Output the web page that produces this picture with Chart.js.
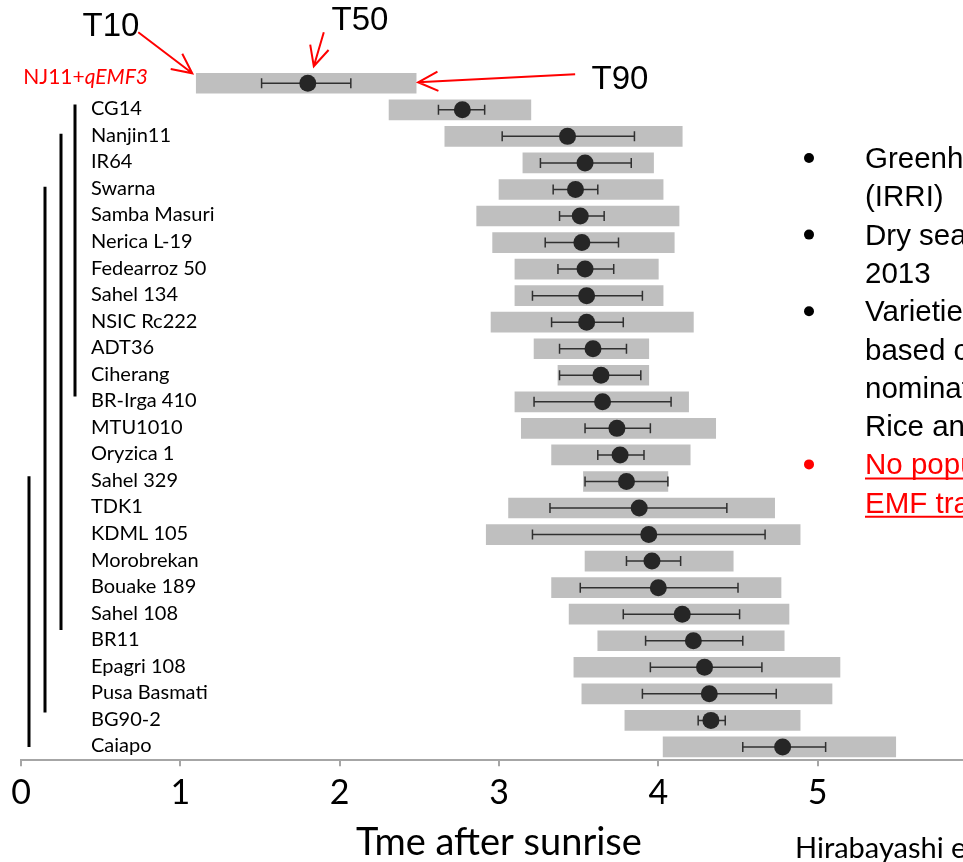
<!DOCTYPE html>
<html>
<head>
<meta charset="utf-8">
<script src="https://cdn.jsdelivr.net/npm/chart.js@4.4.1/dist/chart.umd.min.js"></script>
<style>
  html, body { margin: 0; padding: 0; background: #fff; overflow: hidden; }
  #wrap { width: 1000px; height: 862px; position: relative; }
</style>
</head>
<body>
<div id="wrap"><canvas id="emfChart"></canvas></div>
<script>
// flowering time data (hours after sunrise)
var varieties = ["NJ11+qEMF3", "CG14", "Nanjin11", "IR64", "Swarna", "Samba Masuri", "Nerica L-19",
    "Fedearroz 50", "Sahel 134", "NSIC Rc222", "ADT36", "Ciherang", "BR-Irga 410", "MTU1010",
    "Oryzica 1", "Sahel 329", "TDK1", "KDML 105", "Morobrekan", "Bouake 189", "Sahel 108", "BR11",
    "Epagri 108", "Pusa Basmati", "BG90-2", "Caiapo"];
var t10 = [1.10, 2.31, 2.66, 3.15, 3.00, 2.86, 2.96, 3.10, 3.10, 2.95, 3.22, 3.37, 3.10, 3.14,
    3.33, 3.53, 3.06, 2.92, 3.54, 3.33, 3.44, 3.62, 3.47, 3.52, 3.79, 4.03];
var t90 = [2.48, 3.20, 4.15, 3.97, 4.03, 4.13, 4.10, 4.00, 4.03, 4.22, 3.94, 3.94, 4.19, 4.36,
    4.20, 4.06, 4.73, 4.89, 4.47, 4.77, 4.82, 4.79, 5.14, 5.09, 4.89, 5.49];
var t50 = [1.80, 2.77, 3.43, 3.54, 3.48, 3.51, 3.52, 3.54, 3.55, 3.55, 3.59, 3.64, 3.65, 3.74,
    3.76, 3.80, 3.88, 3.94, 3.96, 4.00, 4.15, 4.22, 4.29, 4.32, 4.33, 4.78];
var errLow = [1.51, 2.62, 3.02, 3.26, 3.34, 3.38, 3.29, 3.37, 3.21, 3.33, 3.38, 3.38, 3.22, 3.54,
    3.62, 3.54, 3.32, 3.21, 3.80, 3.51, 3.78, 3.92, 3.95, 3.90, 4.25, 4.53];
var errHigh = [2.07, 2.91, 3.85, 3.83, 3.62, 3.66, 3.75, 3.72, 3.90, 3.78, 3.80, 3.89, 4.08, 3.95,
    3.91, 4.06, 4.43, 4.67, 4.14, 4.50, 4.51, 4.53, 4.65, 4.74, 4.42, 5.05];
var xTicks = [0, 1, 2, 3, 4, 5, 6];

// cluster brackets on the left (row ranges)
var brackets = [
    { x: 75, from: 0.8, to: 11.8 },
    { x: 61, from: 1.9, to: 20.6 },
    { x: 45, from: 3.9, to: 23.7 },
    { x: 29, from: 14.8, to: 25.0 },
];

var notes = [
    { text: "Greenhouse", bullet: true, red: false },
    { text: "(IRRI)", bullet: false, red: false },
    { text: "Dry season", bullet: true, red: false },
    { text: "2013", bullet: false, red: false },
    { text: "Varieties", bullet: true, red: false },
    { text: "based on", bullet: false, red: false },
    { text: "nominated", bullet: false, red: false },
    { text: "Rice and", bullet: false, red: false },
    { text: "No population", bullet: true, red: true },
    { text: "EMF trait", bullet: false, red: true },
];

function arrow(ctx, x1, y1, x2, y2) {
    var a = Math.atan2(y2 - y1, x2 - x1);
    var len = 22, spread = 0.45;
    ctx.beginPath();
    ctx.moveTo(x1, y1);
    ctx.lineTo(x2, y2);
    ctx.moveTo(x2 - len * Math.cos(a - spread), y2 - len * Math.sin(a - spread));
    ctx.lineTo(x2, y2);
    ctx.lineTo(x2 - len * Math.cos(a + spread), y2 - len * Math.sin(a + spread));
    ctx.stroke();
}

var errorBars = {
    id: "errorBars",
    afterDatasetDraw: function (chart, args) {
        if (args.index !== 0) return;
        var ctx = chart.ctx, xs = chart.scales.x, ys = chart.scales.y;
        ctx.save();
        ctx.strokeStyle = "#303030";
        ctx.lineWidth = 1.5;
        for (var i = 0; i < varieties.length; i++) {
            var y = ys.getPixelForValue(i);
            var a = xs.getPixelForValue(errLow[i]), b = xs.getPixelForValue(errHigh[i]);
            ctx.beginPath();
            ctx.moveTo(a, y); ctx.lineTo(b, y);
            ctx.moveTo(a, y - 5); ctx.lineTo(a, y + 5);
            ctx.moveTo(b, y - 5); ctx.lineTo(b, y + 5);
            ctx.stroke();
        }
        ctx.restore();
    },
};

var extras = {
    id: "extras",
    afterDraw: function (chart) {
        var ctx = chart.ctx, xs = chart.scales.x, ys = chart.scales.y;
        ctx.save();

        // variety names
        ctx.textBaseline = "middle";
        ctx.textAlign = "left";
        ctx.fillStyle = "#000";
        ctx.font = "20px Lato";
        for (var i = 1; i < varieties.length; i++) {
            ctx.fillText(varieties[i], 91, ys.getPixelForValue(i) - 1);
        }
        // NJ11+qEMF3 in red, gene name in italics
        var y0 = ys.getPixelForValue(0) - 6;
        ctx.fillStyle = "#ff0000";
        ctx.font = "italic 21px Lato";
        var w2 = ctx.measureText("qEMF3").width;
        ctx.textAlign = "right";
        ctx.fillText("qEMF3", 148, y0);
        ctx.font = "21px Lato";
        ctx.fillText("NJ11+", 148 - w2, y0);

        // brackets
        ctx.strokeStyle = "#000";
        ctx.lineWidth = 3;
        brackets.forEach(function (b) {
            ctx.beginPath();
            ctx.moveTo(b.x, ys.getPixelForValue(b.from));
            ctx.lineTo(b.x, ys.getPixelForValue(b.to));
            ctx.stroke();
        });

        // T10 / T50 / T90 callouts
        ctx.fillStyle = "#000";
        ctx.font = "33px 'Liberation Sans'";
        ctx.textAlign = "center";
        ctx.fillText("T10", 111, 27);
        ctx.fillText("T50", 360, 21);
        ctx.fillText("T90", 620, 80);
        ctx.strokeStyle = "#ff0000";
        ctx.lineWidth = 2;
        var rowTop = ys.getPixelForValue(0) - 10;
        var p10 = xs.getPixelForValue(t10[0]) - 4;
        arrow(ctx, p10 - 54, rowTop - 41, p10, rowTop);
        var p50 = xs.getPixelForValue(t50[0]) + 6;
        arrow(ctx, p50 + 10, rowTop - 41, p50, rowTop - 7);
        var p90 = xs.getPixelForValue(t90[0]) + 2;
        arrow(ctx, p90 + 157, rowTop + 1, p90, rowTop + 9);

        // notes on the right
        ctx.textAlign = "left";
        ctx.textBaseline = "alphabetic";
        ctx.font = "29.5px 'Liberation Sans'";
        notes.forEach(function (n, k) {
            var base = 168 + k * 38.3;
            var col = n.red ? "#ff0000" : "#000";
            ctx.fillStyle = col;
            if (n.bullet) {
                ctx.beginPath();
                ctx.arc(809, base - 10, 5, 0, Math.PI * 2);
                ctx.fill();
            }
            ctx.fillText(n.text, 865, base);
            if (n.red) {
                ctx.strokeStyle = col;
                ctx.lineWidth = 2;
                ctx.beginPath();
                ctx.moveTo(865, base + 4);
                ctx.lineTo(865 + ctx.measureText(n.text).width, base + 4);
                ctx.stroke();
            }
        });

        ctx.fillStyle = "#000";
        ctx.font = "29px Lato";
        ctx.fillText("Hirabayashi et al.", 795, 858);
        ctx.restore();
    },
};

document.addEventListener("DOMContentLoaded", function () {
    var barData = varieties.map(function (v, i) { return { y: i, x: [t10[i], t90[i]] }; });
    var dotData = varieties.map(function (v, i) { return { y: i, x: t50[i] }; });

    var ctx = document.getElementById("emfChart").getContext("2d");
    new Chart(ctx, {
        type: "bar",
        data: {
            datasets: [
                {
                    label: "T10-T90",
                    data: barData,
                    backgroundColor: "#bfbfbf",
                    borderWidth: 0,
                    barThickness: 20,
                    order: 2,
                },
                {
                    type: "line",
                    label: "T50",
                    data: dotData,
                    showLine: false,
                    pointRadius: 8.5,
                    pointBackgroundColor: "#262626",
                    pointBorderWidth: 0,
                    order: 1,
                },
            ],
        },
        options: {
            indexAxis: "y",
            responsive: true,
            maintainAspectRatio: false,
            animation: false,
            layout: { padding: { left: 21, right: 23, top: 70, bottom: 0 } },
            plugins: { legend: { display: false }, tooltip: { enabled: false } },
            scales: {
                x: {
                    type: "linear",
                    min: 0,
                    max: 6,
                    offset: false,
                    afterBuildTicks: function (s) {
                        s.ticks = xTicks.map(function (v) { return { value: v }; });
                    },
                    ticks: { color: "#000", font: { family: "Lato", size: 34 }, padding: 6 },
                    grid: { drawOnChartArea: false, drawTicks: true, tickLength: 6, color: "#a6a6a6", lineWidth: 2 },
                    border: { display: true, color: "#a6a6a6", width: 2 },
                    title: {
                        display: true,
                        text: "Tme after sunrise",
                        color: "#000",
                        font: { family: "Lato", size: 38, lineHeight: 1.0 },
                        padding: { top: 5, bottom: 0 },
                    },
                },
                y: {
                    type: "linear",
                    reverse: true,
                    min: -0.5,
                    max: 25.5,
                    offset: false,
                    display: false,
                },
            },
        },
        plugins: [errorBars, extras],
    });
});
</script>
</body>
</html>
